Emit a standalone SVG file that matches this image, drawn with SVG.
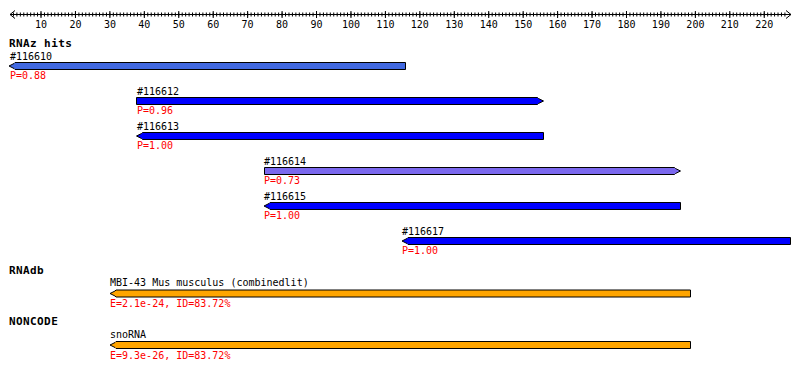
<svg xmlns="http://www.w3.org/2000/svg" width="800" height="372" viewBox="0 0 800 372">
<style>
.t{font-family:"DejaVu Sans Mono","Liberation Mono",monospace;font-size:10px;fill:#000}
.r{fill:#ff0000}
.h{font-family:"DejaVu Sans Mono","Liberation Mono",monospace;font-size:11px;font-weight:bold;letter-spacing:0.4px;fill:#000}
.c{text-anchor:middle}
.bar{stroke:#000;stroke-width:1}
.ax{stroke:#000;fill:none}
</style>
<rect width="800" height="372" fill="#fff"/>
<g id="ruler">
<line class="ax" x1="10" y1="14.5" x2="791" y2="14.5" stroke-width="1"/>
<polyline class="ax" points="15,10.5 10,14.5 15,18.5"/>
<polyline class="ax" points="786,10.5 791,14.5 786,18.5"/>
<line class="ax" x1="12.95" y1="14.5" x2="786" y2="14.5" stroke-width="4" stroke-dasharray="1 2.444"/>
<line class="ax" x1="40.5" y1="14.5" x2="766" y2="14.5" stroke-width="7" stroke-dasharray="1 33.44"/>
<g class="t c">
<text x="41" y="28">10</text><text x="75.4" y="28">20</text><text x="109.9" y="28">30</text><text x="144.3" y="28">40</text><text x="178.8" y="28">50</text><text x="213.2" y="28">60</text><text x="247.6" y="28">70</text><text x="282.1" y="28">80</text><text x="316.5" y="28">90</text><text x="351" y="28">100</text><text x="385.4" y="28">110</text><text x="419.8" y="28">120</text><text x="454.3" y="28">130</text><text x="488.7" y="28">140</text><text x="523.2" y="28">150</text><text x="557.6" y="28">160</text><text x="592" y="28">170</text><text x="626.5" y="28">180</text><text x="660.9" y="28">190</text><text x="695.4" y="28">200</text><text x="729.8" y="28">210</text><text x="764.2" y="28">220</text>
</g>
</g>
<g id="headers">
<text class="h" x="9" y="47">RNAz hits</text>
<text class="h" x="9" y="274">RNAdb</text>
<text class="h" x="9" y="325">NONCODE</text>
</g>
<g id="hit116610">
<text class="t" x="10" y="59.5">#116610</text>
<polygon class="bar" fill="#4169e1" points="9,66 14,63.5 15,62.5 405.5,62.5 405.5,69.5 15,69.5 14,68.5"/>
<text class="t r" x="10" y="79">P=0.88</text>
</g>
<g id="hit116612">
<text class="t" x="137" y="94.5">#116612</text>
<polygon class="bar" fill="#0000ff" points="136.5,97.5 537.5,97.5 538.5,98.5 543.5,101 538.5,103.5 537.5,104.5 136.5,104.5"/>
<text class="t r" x="137" y="114">P=0.96</text>
</g>
<g id="hit116613">
<text class="t" x="137" y="129.5">#116613</text>
<polygon class="bar" fill="#0000ff" points="136.5,136 141.5,133.5 142.5,132.5 543.5,132.5 543.5,139.5 142.5,139.5 141.5,138.5"/>
<text class="t r" x="137" y="149">P=1.00</text>
</g>
<g id="hit116614">
<text class="t" x="264" y="164.5">#116614</text>
<polygon class="bar" fill="#7b68ee" points="264.5,167.5 674.5,167.5 675.5,168.5 680.5,171 675.5,173.5 674.5,174.5 264.5,174.5"/>
<text class="t r" x="264" y="184">P=0.73</text>
</g>
<g id="hit116615">
<text class="t" x="264" y="199.5">#116615</text>
<polygon class="bar" fill="#0000ff" points="264,206 269,203.5 270,202.5 680.5,202.5 680.5,209.5 270,209.5 269,208.5"/>
<text class="t r" x="264" y="219">P=1.00</text>
</g>
<g id="hit116617">
<text class="t" x="402" y="234.5">#116617</text>
<polygon class="bar" fill="#0000ff" points="402,241 407,238.5 408,237.5 790.5,237.5 790.5,244.5 408,244.5 407,243.5"/>
<text class="t r" x="402" y="254">P=1.00</text>
</g>
<g id="rnadb">
<text class="t" x="110" y="286">MBI-43 Mus musculus (combinedlit)</text>
<polygon class="bar" fill="#ffa500" points="110,293.5 115,291 116,290 690.5,290 690.5,297 116,297 115,296"/>
<text class="t r" x="110" y="307">E=2.1e-24, ID=83.72%</text>
</g>
<g id="noncode">
<text class="t" x="110" y="338">snoRNA</text>
<polygon class="bar" fill="#ffa500" points="110,345 115,342.5 116,341.5 690.5,341.5 690.5,348.5 116,348.5 115,347.5"/>
<text class="t r" x="110" y="359">E=9.3e-26, ID=83.72%</text>
</g>
</svg>
